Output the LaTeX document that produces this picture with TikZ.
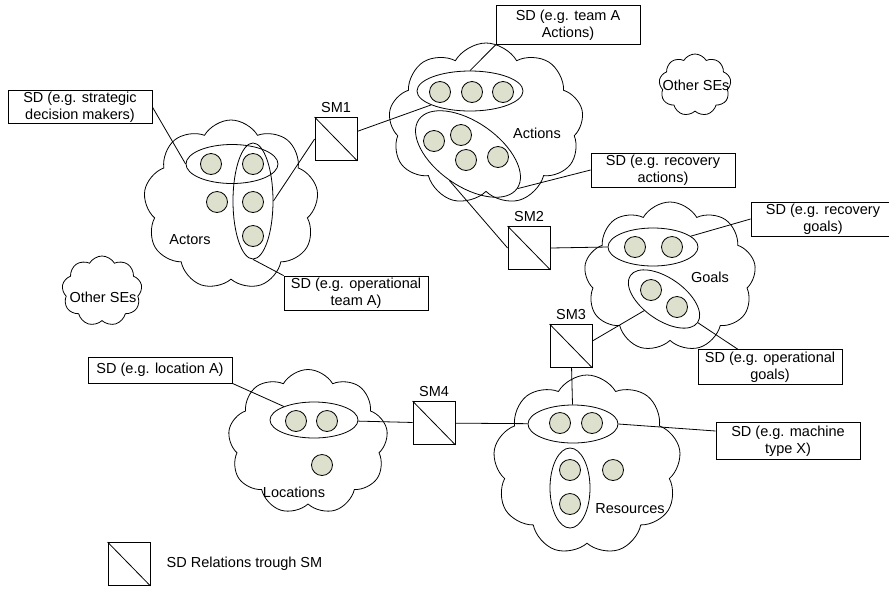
\documentclass[tikz,border=0pt]{standalone}
\usepackage{fontspec}
\setmainfont{Liberation Sans}
\usetikzlibrary{shapes.geometric,shapes.symbols}
\definecolor{dotgreen}{RGB}{221,224,204}

\begin{document}
\begin{tikzpicture}[x=1pt,y=-1pt,line width=0.8pt,
    se/.style={cloud,draw,cloud puffs=9,cloud puff arc=120,cloud ignores aspect,inner sep=0pt},
    grp/.style={ellipse,draw,inner sep=0pt},
    sd/.style={circle,draw,fill=dotgreen,minimum size=21pt,inner sep=0pt},
    sm/.style={rectangle,draw,fill=white,minimum width=42pt,minimum height=43pt,inner sep=0pt},
    lbl/.style={rectangle,draw,fill=white,minimum width=144pt,align=center,inner sep=1pt,
                font=\fontsize{14.5}{17}\selectfont},
    txt/.style={font=\fontsize{14.5}{17}\selectfont}]

  \useasboundingbox (0,0) rectangle (889,590);

  % the SEs
  \node[se,minimum width=175pt,minimum height=170pt] (actors)    at (231,205) {};
  \node[se,minimum width=195pt,minimum height=162pt] (actions)   at (486,124) {};
  \node[se,minimum width=172pt,minimum height=150pt] (goals)     at (670,277) {};
  \node[se,minimum width=188pt,minimum height=180pt] (resources) at (587,465) {};
  \node[se,minimum width=160pt,minimum height=145pt] (locations) at (308,442) {};
  \node[se,minimum width=72pt,minimum height=62pt]   (otherR)    at (695,85)  {};
  \node[se,minimum width=80pt,minimum height=70pt]   (otherL)    at (102,291) {};

  \node[txt] (actorsTxt)    at (190,240) {Actors};
  \node[txt] (actionsTxt)   at (537,133) {Actions};
  \node[txt] (goalsTxt)     at (710,277) {Goals};
  \node[txt] (resourcesTxt) at (630,509) {Resources};
  \node[txt] (locationsTxt) at (294,492) {Locations};
  \node[txt] (otherRTxt)    at (696,85)  {Other SEs};
  \node[txt] (otherLTxt)    at (103,297) {Other SEs};

  % SDs and their groups
  \node[grp,minimum width=92pt,minimum height=39pt]  (actH) at (232,164) {};
  \node[grp,minimum width=40pt,minimum height=116pt] (actV) at (253,201) {};
  \node[sd] (a1) at (211,164) {};
  \node[sd] (a2) at (253,164) {};
  \node[sd] (a3) at (217,202) {};
  \node[sd] (a4) at (253,202) {};
  \node[sd] (a5) at (253,236) {};

  \node[grp,minimum width=106pt,minimum height=40pt] (actTop) at (470,91) {};
  \node[grp,minimum width=120pt,minimum height=64pt,rotate=-35] (actLow) at (468,154) {};
  \node[sd] (b1) at (440,92) {};
  \node[sd] (b2) at (472,92) {};
  \node[sd] (b3) at (503,92) {};
  \node[sd] (b4) at (434,141) {};
  \node[sd] (b5) at (461,135) {};
  \node[sd] (b6) at (466,160) {};
  \node[sd] (b7) at (498,157) {};

  \node[grp,minimum width=90pt,minimum height=38pt] (goalTop) at (653,247) {};
  \node[grp,minimum width=82pt,minimum height=42pt,rotate=-35] (goalLow) at (664,299) {};
  \node[sd] (c1) at (635,247) {};
  \node[sd] (c2) at (672,247) {};
  \node[sd] (c3) at (651,290) {};
  \node[sd] (c4) at (677,307) {};

  \node[grp,minimum width=90pt,minimum height=38pt] (resTop) at (573,424) {};
  \node[grp,minimum width=40pt,minimum height=80pt] (resV)   at (570,488) {};
  \node[sd] (d1) at (560,423) {};
  \node[sd] (d2) at (592,423) {};
  \node[sd] (d3) at (613,470) {};
  \node[sd] (d4) at (570,470) {};
  \node[sd] (d5) at (570,504) {};

  \node[grp,minimum width=88pt,minimum height=36pt] (locE) at (314,420) {};
  \node[sd] (e1) at (296,421) {};
  \node[sd] (e2) at (327,421) {};
  \node[sd] (e3) at (322,465) {};

  % SMs
  \node[sm] (sm1)   at (336,139) {};
  \node[sm] (sm2)   at (529,248) {};
  \node[sm] (sm3)   at (571,346) {};
  \node[sm] (sm4)   at (434,423) {};
  \node[sm] (smKey) at (129,564) {};
  \foreach \b in {sm1,sm2,sm3,sm4,smKey}
    \draw (\b.north west) -- (\b.south east);
  \node[txt,above=1pt] (sm1Txt) at (sm1.north) {SM1};
  \node[txt,above=1pt] (sm2Txt) at (sm2.north) {SM2};
  \node[txt,above=1pt] (sm3Txt) at (sm3.north) {SM3};
  \node[txt,above=1pt] (sm4Txt) at (sm4.north) {SM4};
  \node[txt,anchor=west] (keyTxt) at (163,564) {SD Relations trough SM};

  % SD labels
  \node[lbl,minimum height=33pt] (lblStrat)   at (80,107)  {SD (e.g. strategic\\decision makers)};
  \node[lbl,minimum height=39pt] (lblTeamAct) at (568,25)  {SD (e.g. team A\\Actions)};
  \node[lbl,minimum height=34pt] (lblRecAct)  at (663,170) {SD (e.g. recovery\\actions)};
  \node[lbl,minimum height=34pt] (lblRecGoal) at (823,219) {SD (e.g. recovery\\goals)};
  \node[lbl,minimum height=34pt] (lblOpTeam)  at (356,293) {SD (e.g. operational\\team A)};
  \node[lbl,minimum height=35pt] (lblOpGoal)  at (770,367) {SD (e.g. operational\\goals)};
  \node[lbl,minimum height=26pt] (lblLoc)     at (160,370) {SD (e.g. location A)};
  \node[lbl,minimum height=37pt] (lblMach)    at (788,441) {SD (e.g. machine\\type X)};

  \draw (lblStrat.east) -- (actH.west);
  \draw (lblTeamAct.south west) -- (actTop.north);
  \draw (lblRecAct.west) -- (actLow.east);
  \draw (lblRecGoal.west) -- (goalTop);
  \draw (lblOpTeam.north west) -- (actV.south);
  \draw ([xshift=40pt]lblOpGoal.north west) -- (goalLow.east);
  \draw (lblLoc.south east) -- (locE);
  \draw ([yshift=10pt]lblMach.west) -- (resTop.east);

  \draw (actV.east) -- (sm1.west);
  \draw (sm1) -- (actTop);
  \draw (actLow.south) -- (sm2.west);
  \draw (sm2.east) -- (goalTop.west);
  \draw ([yshift=5pt]sm3.east) -- (goalLow);
  \draw (sm3) -- (resTop);
  \draw (locE) -- (sm4);
  \draw (sm4) -- (resTop);
\end{tikzpicture}
\end{document}
